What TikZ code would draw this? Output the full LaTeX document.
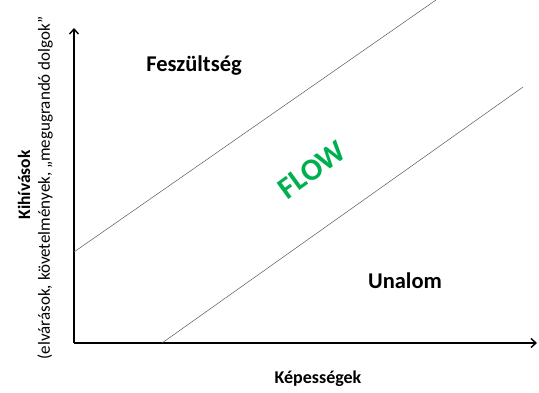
\documentclass[tikz,border=0pt]{standalone}
\usepackage{fontspec}
\setmainfont{Carlito}
\usetikzlibrary{arrows.meta}

\definecolor{flowgreen}{RGB}{0,176,80}

\begin{document}
\begin{tikzpicture}[x=1pt, y=1pt]

    % Fixed frame of the picture
    \useasboundingbox (0,0) rectangle (539,392);

    % --- Axes ---
    \coordinate (O)    at (74,49);
    \coordinate (ytip) at (74,364);
    \coordinate (xtip) at (537,49);
    \draw[line width=1.6pt, -{Straight Barb[length=5pt, width=9pt, line width=1.4pt]}]
      (O) -- (ytip);
    \draw[line width=1.6pt, -{Straight Barb[length=5pt, width=9pt, line width=1.4pt]}]
      (O) -- (xtip);

    % --- Channel boundaries (thin gray) ---
    \coordinate (up1)  at (74,140);
    \coordinate (up2)  at (436,392);
    \coordinate (low1) at (162,49);
    \coordinate (low2) at (523,305);
    \draw[line width=0.5pt, black!65] (up1) -- (up2);
    \draw[line width=0.5pt, black!65] (low1) -- (low2);

    % Zone labels
    \node[font=\bfseries\fontsize{22.5}{27}\selectfont] (tension) at (194,326) {Feszültség};
    \node[font=\bfseries\fontsize{22.5}{27}\selectfont] (boredom) at (405,111) {Unalom};
    \node[font=\bfseries\fontsize{31}{36}\selectfont, text=flowgreen, rotate=36, inner sep=0pt]
      (flow) at (312,222) {FLOW};

    % Axis titles
    \node[font=\bfseries\fontsize{18}{21}\selectfont] (xlabel) at (318,13) {Képességek};
    \node[font=\bfseries\fontsize{17.5}{20}\selectfont, rotate=90] (ylabel) at (24,207) {Kihívások};
    \node[font=\fontsize{17}{20}\selectfont, rotate=90] (ysub) at (45,204)
      {(elvárások, követelmények, „megugrandó dolgok”};

\end{tikzpicture}
\end{document}
